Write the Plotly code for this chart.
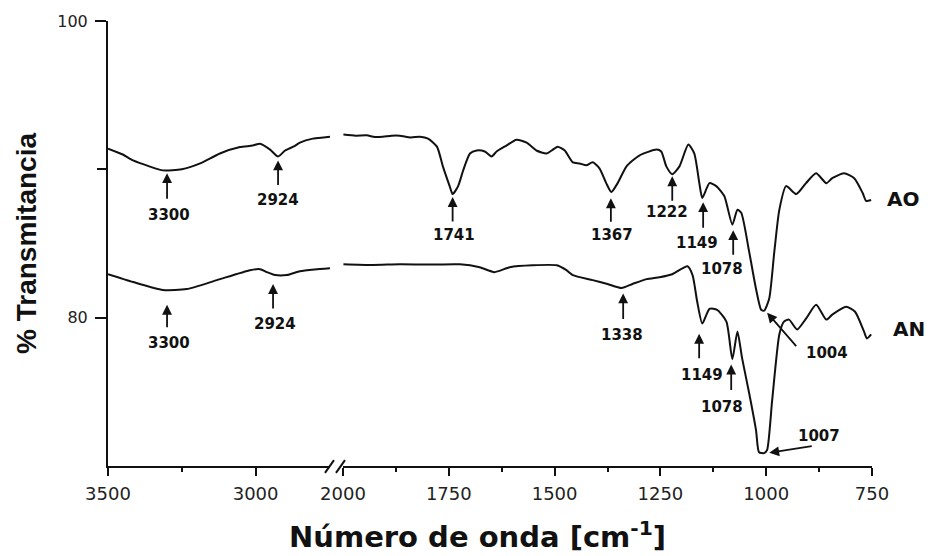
import numpy as np
import plotly.graph_objects as go

# ---------------- data ----------------
# AO spectrum, high-wavenumber segment (3500 - 2750 cm-1)
ao_left_wn = [3500, 3450, 3415, 3360, 3314, 3250, 3188, 3121, 3053, 3010, 2985,
              2951, 2924, 2900, 2870, 2850, 2806, 2770, 2748]
ao_left_T = [91.4, 91.0, 90.6, 90.2, 89.93, 90.0, 90.4, 91.07, 91.5, 91.6, 91.73,
             91.33, 90.87, 91.27, 91.55, 91.8, 92.07, 92.15, 92.2]

# AN spectrum, high-wavenumber segment
an_left_wn = [3500, 3415, 3314, 3233, 3131, 3019, 2985, 2962, 2934, 2894, 2850, 2800, 2748]
an_left_T = [82.93, 82.4, 81.87, 81.93, 82.53, 83.2, 83.27, 83.07, 82.87, 82.87, 83.13,
             83.25, 83.33]

# AO spectrum, fingerprint segment (2000 - 750 cm-1)
ao_right_wn = [1999, 1970, 1944, 1925, 1906, 1885, 1866, 1840, 1818, 1799, 1778, 1764,
               1748, 1741, 1728, 1716, 1700, 1684, 1665, 1649, 1637, 1614, 1590, 1566,
               1543, 1519, 1507, 1493, 1476, 1457, 1441, 1425, 1410, 1394, 1378, 1366,
               1351, 1330, 1300, 1259, 1248, 1236, 1222, 1205, 1184, 1170, 1158, 1151,
               1134, 1118, 1099, 1080, 1068, 1059, 1040, 1024, 1012, 1005, 993, 981,
               969, 953, 929, 906, 882, 858, 844, 816, 792, 772, 764, 752]
ao_right_T = [92.35, 92.27, 92.29, 92.18, 92.2, 92.27, 92.27, 92.15, 92.2, 92.07, 91.53, 90.2,
              88.87, 88.33, 88.87, 89.93, 91.07, 91.27, 91.2, 90.87, 91.2, 91.6, 92.0, 91.8,
              91.27, 91.07, 91.27, 91.53, 91.27, 90.47, 90.4, 90.27, 90.47, 90.07, 89.07, 88.47,
              89.07, 90.2, 90.93, 91.33, 91.2, 90.2, 89.67, 90.2, 91.67, 91.07, 89.07, 88.07,
              89.07, 88.87, 88.2, 86.27, 87.27, 87.07, 84.4, 81.93, 80.53, 80.47, 81.27, 84.4,
              87.27, 88.87, 88.33, 89.07, 89.73, 89.07, 89.4, 89.73, 89.4, 88.4, 87.87, 87.93]

# AN spectrum, fingerprint segment
an_right_wn = [1999, 1930, 1866, 1800, 1724, 1677, 1642, 1606, 1552, 1495, 1472, 1457,
               1410, 1375, 1342, 1316, 1283, 1252, 1222, 1186, 1174, 1163, 1151, 1134,
               1116, 1094, 1080, 1068, 1057, 1040, 1024, 1017, 1005, 998, 986, 969, 958,
               946, 927, 906, 882, 858, 844, 811, 790, 769, 762, 752]
an_right_T = [83.6, 83.55, 83.6, 83.58, 83.6, 83.4, 83.07, 83.4, 83.53, 83.53, 83.2, 82.87,
              82.53, 82.27, 82.0, 82.27, 82.6, 82.73, 82.93, 83.47, 82.87, 81.07, 79.6, 80.6,
              80.53, 79.73, 77.2, 79.07, 77.27, 74.87, 72.4, 70.93, 70.87, 71.07, 74.4, 78.87, 79.73,
              79.87, 79.2, 79.93, 80.87, 79.87, 80.2, 80.73, 80.4, 79.07, 78.6, 78.87]

# peak labels
ao_peak_labels = ["3300", "2924", "1741", "1367", "1222", "1149", "1078", "1004"]
ao_peak_wn = [3300, 2924, 1741, 1367, 1222, 1149, 1078, 1004]
an_peak_labels = ["3300", "2924", "1338", "1149", "1078", "1007"]
an_peak_wn = [3300, 2924, 1338, 1149, 1078, 1007]

series_names = ["AO", "AN"]

x_left_ticks = [3500, 3000]
x_left_minor = [3250]
x_right_ticks = [2000, 1750, 1500, 1250, 1000, 750]
x_right_minor = [1875, 1625, 1375, 1125, 875]
y_ticks = [80, 100]
y_minor = [90]

# ---------------- styling (pixel offsets of the annotation pieces) ----------------
# (arrow xshift, standoff, ax, ay, text dx, text dy)
ao_style = [(0, 3, 0, 30, 2, 45), (0, 4, 0, 30, 0, 44), (0, 3, 0, 29, 1, 41),
            (0, 7, 0, 32, 1, 44), (0, 2, 0, 28, -5, 38), (0, 6, 0, 33, -6, 47),
            (0, 8, 0, 34, -11, 47), (0, 4, 33, 38, 62, 43)]
an_style = [(0, 15, 0, 39, 2, 53), (-5, 9, 0, 35, -3, 49), (0, 6, 0, 33, -1, 48),
            (-4, 12, 0, 38, -1, 53), (-2, 10, 0, 37, -11, 52), (5, 1, 45, -7, 56, -17)]

INK = "#111111"
NUMFONT = dict(family="DejaVu Sans", size=15, color=INK)

fig = go.Figure()
for wn, T, ax in [(ao_left_wn, ao_left_T, "x"), (an_left_wn, an_left_T, "x"),
                  (ao_right_wn, ao_right_T, "x2"), (an_right_wn, an_right_T, "x2")]:
    fig.add_trace(go.Scatter(x=wn, y=T, xaxis=ax, yaxis="y", mode="lines",
                             line=dict(color=INK, width=2, shape="spline", smoothing=0.6),
                             showlegend=False, hoverinfo="x+y"))


def curve_value(w, lw, lT, rw, rT):
    if w > 2200:
        return float(np.interp(w, lw[::-1], lT[::-1]))
    return float(np.interp(w, rw[::-1], rT[::-1]))


annotations = []
for labels, wns, styles, (lw, lT, rw, rT) in [
        (ao_peak_labels, ao_peak_wn, ao_style, (ao_left_wn, ao_left_T, ao_right_wn, ao_right_T)),
        (an_peak_labels, an_peak_wn, an_style, (an_left_wn, an_left_T, an_right_wn, an_right_T))]:
    for lab, w, st in zip(labels, wns, styles):
        xs, so, axp, ayp, tdx, tdy = st
        xr = "x" if w > 2200 else "x2"
        yv = curve_value(w, lw, lT, rw, rT)
        annotations.append(dict(x=w, y=yv, xref=xr, yref="y", text="", showarrow=True,
                                ax=axp, ay=ayp, xshift=xs, standoff=so,
                                arrowhead=2, arrowsize=1.1, arrowwidth=1.8,
                                arrowcolor=INK))
        annotations.append(dict(x=w, y=yv, xref=xr, yref="y", text="<b>%s</b>" % lab,
                                showarrow=False, xshift=tdx, yshift=-tdy,
                                font=NUMFONT, xanchor="center", yanchor="middle"))

# series names at the right end of each curve
annotations.append(dict(x=ao_right_wn[-1], y=ao_right_T[-1], xref="x2", yref="y",
                        text="<b>%s</b>" % series_names[0], showarrow=False,
                        xanchor="left", yanchor="middle", xshift=14, yshift=1,
                        font=dict(family="DejaVu Sans", size=20, color=INK)))
annotations.append(dict(x=an_right_wn[-1], y=an_right_T[-1], xref="x2", yref="y",
                        text="<b>%s</b>" % series_names[1], showarrow=False,
                        xanchor="left", yanchor="middle", xshift=20, yshift=5,
                        font=dict(family="DejaVu Sans", size=20, color=INK)))

# x-axis title spanning both segments
annotations.append(dict(x=0.483, y=-0.156, xref="paper", yref="paper",
                        text="<b>Número de onda [cm<sup>-1</sup>]</b>", showarrow=False,
                        xanchor="center", yanchor="middle",
                        font=dict(family="DejaVu Sans", size=29, color=INK)))

# axis break marks "//"
shapes = [
    dict(type="line", xref="paper", yref="paper", x0=0.284, y0=-0.0156, x1=0.2958, y1=0.0133,
         line=dict(color=INK, width=2)),
    dict(type="line", xref="paper", yref="paper", x0=0.2984, y0=-0.0156, x1=0.3102, y1=0.0133,
         line=dict(color=INK, width=2)),
]

common_x = dict(showline=True, linewidth=2, linecolor=INK, ticks="outside", ticklen=8,
                tickwidth=2, tickcolor=INK, showgrid=False, zeroline=False, anchor="y",
                tickfont=dict(family="DejaVu Sans", size=18, color="#222222"),
                ticklabelstandoff=2)

fig.update_layout(
    width=930, height=556,
    margin=dict(l=108, r=58, t=16, b=90),
    plot_bgcolor="white", paper_bgcolor="white",
    xaxis=dict(domain=[0, 0.2906], range=[3500, 2748], tickmode="array",
               tickvals=x_left_ticks, ticktext=[str(v) for v in x_left_ticks],
               minor=dict(tickmode="array", tickvals=x_left_minor, ticklen=4, tickwidth=2,
                          tickcolor=INK, ticks="outside"),
               **common_x),
    xaxis2=dict(domain=[0.3076, 1], range=[2000, 750], tickmode="array",
                tickvals=x_right_ticks, ticktext=[str(v) for v in x_right_ticks],
                minor=dict(tickmode="array", tickvals=x_right_minor, ticklen=4, tickwidth=2,
                           tickcolor=INK, ticks="outside"),
                **common_x),
    yaxis=dict(domain=[0, 1], range=[70, 100], anchor="x", tickmode="array",
               tickvals=y_ticks, ticktext=[str(v) for v in y_ticks], showline=True, linewidth=2,
               linecolor=INK, ticks="outside", ticklen=11, tickwidth=2, tickcolor=INK,
               minor=dict(tickmode="array", tickvals=y_minor, ticklen=9, tickwidth=2,
                          tickcolor=INK, ticks="outside"),
               showgrid=False, zeroline=False, ticklabelstandoff=4,
               tickfont=dict(family="DejaVu Sans", size=16, color="#222222"),
               title=dict(text="<b>% Transmitancia</b>", standoff=12,
                          font=dict(family="Liberation Sans, Arial", size=28, color=INK))),
    annotations=annotations,
    shapes=shapes,
)

fig.write_html("out.html")
